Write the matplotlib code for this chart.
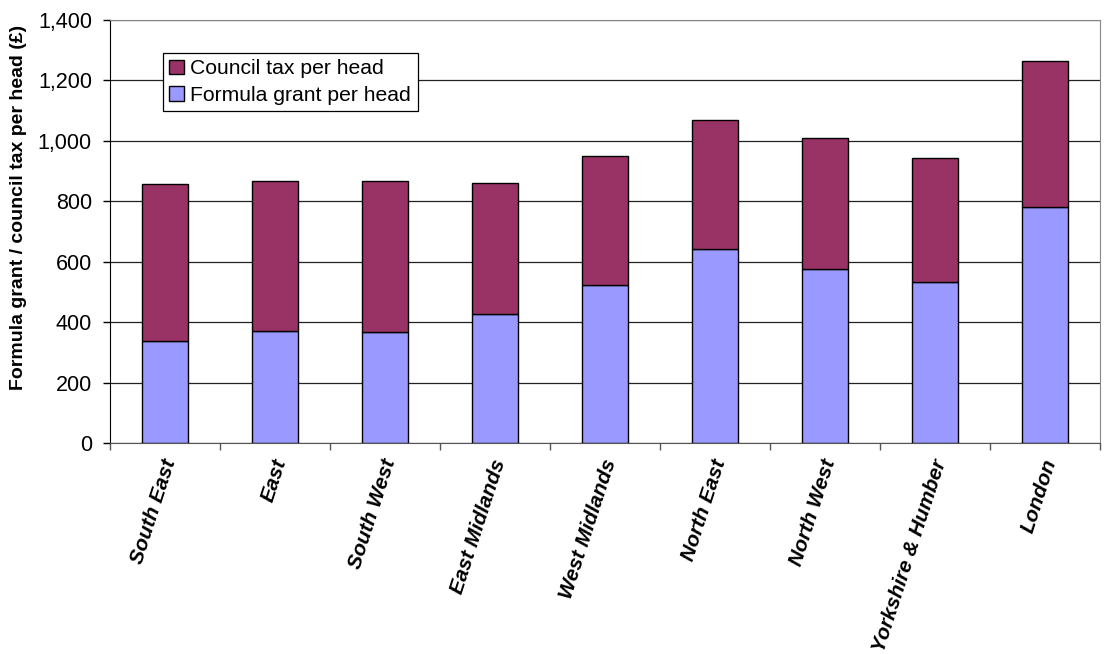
import matplotlib
matplotlib.use("Agg")
import matplotlib.pyplot as plt
import numpy as np

plt.rcParams['font.family'] = ['Liberation Sans', 'DejaVu Sans']

regions = ["South East", "East", "South West", "East Midlands", "West Midlands",
           "North East", "North West", "Yorkshire & Humber", "London"]
formula_grant = [337, 370, 367, 426, 523, 641, 576, 534, 781]
council_tax = [521, 497, 500, 436, 428, 428, 434, 410, 484]
y_ticks = [0, 200, 400, 600, 800, 1000, 1200, 1400]

grant_color = "#9999FF"
tax_color = "#993366"

fig = plt.figure(figsize=(11.07, 6.54), dpi=100)
ax = fig.add_axes([0.0994, 0.3226, 0.8943, 0.6468])

x = np.arange(len(regions))
width = 0.41
ax.bar(x, formula_grant, width, color=grant_color, edgecolor="black",
       linewidth=1.0, label="Formula grant per head", zorder=3)
ax.bar(x, council_tax, width, bottom=formula_grant, color=tax_color,
       edgecolor="black", linewidth=1.0, label="Council tax per head", zorder=3)

ax.set_xlim(-0.5, len(regions) - 0.5)
ax.set_ylim(0, 1400)
ax.set_yticks(y_ticks)
ax.set_yticklabels([f"{v:,}" for v in y_ticks], fontsize=15.5)
ax.yaxis.grid(True, color="#222222", linewidth=0.9, zorder=0)
ax.set_axisbelow(True)

# category boundary ticks on the x axis, labels placed at bar centres
ax.set_xticks(np.arange(len(regions) + 1) - 0.5)
ax.set_xticklabels([])
ax.tick_params(axis="x", direction="out", length=5, width=1, color="#555555")
ax.tick_params(axis="y", direction="out", length=5, width=1, color="black", pad=8)

for xi, name in zip(x, regions):
    ax.annotate(name, xy=(xi, 0), xycoords=("data", "axes fraction"),
                xytext=(4, -12), textcoords="offset points",
                rotation=72, rotation_mode="anchor", ha="right", va="center",
                fontsize=15, fontweight="bold", fontstyle="italic")

for side in ("top", "right"):
    ax.spines[side].set_color("#888888")
ax.spines["left"].set_color("black")
ax.spines["bottom"].set_color("#555555")

ax.set_ylabel("Formula grant / council tax per head (£)", fontsize=14,
              fontweight="bold")
ax.yaxis.set_label_coords(-0.084, 0.556)

handles, labels = ax.get_legend_handles_labels()
leg = ax.legend(handles[::-1], labels[::-1], loc="upper left",
                bbox_to_anchor=(0.0535, 0.922), fontsize=15.2, frameon=True,
                fancybox=False, edgecolor="black", framealpha=1,
                handlelength=0.7, handleheight=0.7, handletextpad=0.3,
                borderpad=0.3, labelspacing=0.35, borderaxespad=0)
leg.get_frame().set_linewidth(0.9)

fig.savefig("out.png", dpi=100, facecolor="white")
